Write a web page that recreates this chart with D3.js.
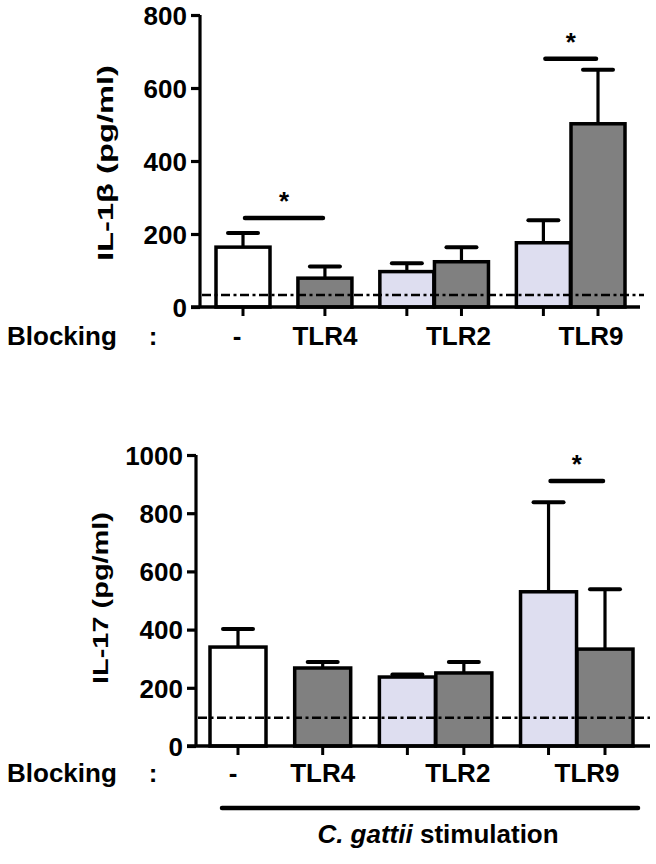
<!DOCTYPE html>
<html><head><meta charset="utf-8">
<script src="https://cdn.jsdelivr.net/npm/d3@7/dist/d3.min.js"></script>
<style>
body{margin:0;background:#fff}
svg{display:block}
text{font-family:"Liberation Sans",Arial,Helvetica,sans-serif;font-weight:bold;fill:#000}
</style>
</head><body>
<svg id="chart" width="656" height="864"></svg>
<script>
// ---- data ----
const blockingLabels = ["-", "TLR4", "TLR2", "TLR9"];
const barGroup = [0, 1, 2, 2, 3, 3];            // which blocking label each bar belongs to
const barKind  = ["none", "blocked", "control", "blocked", "control", "blocked"];
const il1bMean  = [164, 79, 97, 124, 176, 502];
const il1bUpper = [203, 111, 120, 164, 238, 650];
const il17Mean  = [340, 268, 237, 251, 530, 333];
const il17Upper = [402, 289, 246, 289, 838, 539];
const il1bTicks = [0, 200, 400, 600, 800];
const il17Ticks = [0, 200, 400, 600, 800, 1000];
const il1bLimit = 33;
const il17Limit = 97;
const il1bSig = [{a: 0, b: 1, y: 244}, {a: 4, b: 5, y: 680}];
const il17Sig = [{a: 4, b: 5, y: 911}];

const fills = {none: "#ffffff", blocked: "#808080", control: "#dedef0"};
const svg = d3.select("#chart");

function panel(cfg) {
  const g = svg.append("g");
  const y = d3.scaleLinear().domain(cfg.domain).range([cfg.y0, cfg.y1]);
  const slot = barGroup.map((gi, i) => i + 0.5 * gi);
  const x = d3.scaleLinear().domain([0, 6.5]).range([cfg.xFirst, cfg.xLast]);
  const bw = cfg.barW;

  // error bars (upper only)
  const eb = g.append("g");
  cfg.mean.forEach((m, i) => {
    const cx = x(slot[i]);
    eb.append("line").attr("x1", cx).attr("x2", cx).attr("y1", y(m)).attr("y2", y(cfg.upper[i]))
      .attr("stroke", "#000").attr("stroke-width", 3.2);
    eb.append("line").attr("x1", cx - 15).attr("x2", cx + 15).attr("y1", y(cfg.upper[i])).attr("y2", y(cfg.upper[i]))
      .attr("stroke", "#000").attr("stroke-width", 4).attr("stroke-linecap", "round");
  });

  // bars
  g.append("g").selectAll("rect").data(cfg.mean).join("rect")
    .attr("x", (d, i) => x(slot[i]) - bw / 2)
    .attr("width", bw)
    .attr("y", d => y(d))
    .attr("height", d => y(0) - y(d))
    .attr("fill", (d, i) => fills[barKind[i]])
    .attr("stroke", "#000").attr("stroke-width", 3.5);

  // detection limit line
  g.append("line").attr("x1", cfg.axisX + 2).attr("x2", cfg.dashEnd)
    .attr("y1", y(cfg.limit)).attr("y2", y(cfg.limit))
    .attr("stroke", "#000").attr("stroke-width", 2.6).attr("stroke-dasharray", "9,3.5,3,3.5");

  // y axis
  const ya = g.append("g").attr("transform", `translate(${cfg.axisX},0)`)
    .call(d3.axisLeft(y).tickValues(cfg.ticks).tickSize(9).tickPadding(4).tickFormat(d3.format("d")));
  ya.select(".domain").attr("stroke-width", 3.2).attr("d", `M0,${y(cfg.domain[1])}V${y(0)}`);
  ya.selectAll(".tick line").attr("stroke-width", 3.2);
  ya.selectAll(".tick text").attr("font-size", 26).attr("font-family", null).attr("dy", "0.36em");

  // x baseline + ticks
  g.append("line").attr("x1", cfg.axisX - 9).attr("x2", cfg.baseEnd).attr("y1", y(0)).attr("y2", y(0))
    .attr("stroke", "#000").attr("stroke-width", 3.5);
  g.append("g").selectAll("line").data(slot).join("line")
    .attr("x1", d => x(d)).attr("x2", d => x(d)).attr("y1", y(0)).attr("y2", y(0) + 9)
    .attr("stroke", "#000").attr("stroke-width", 3);

  // category labels
  g.append("text").attr("x", 7).attr("y", cfg.labelY).attr("font-size", 26).text("Blocking");
  g.append("text").attr("x", 153).attr("y", cfg.labelY).attr("font-size", 26).attr("text-anchor", "middle").text(":");
  blockingLabels.forEach((lab, gi) => {
    const last = barGroup.lastIndexOf(gi);
    g.append("text").attr("x", x(slot[last]) + cfg.labelDx[gi]).attr("y", cfg.labelY)
      .attr("font-size", 26).attr("text-anchor", "middle").text(lab);
  });

  // significance
  cfg.sig.forEach(s => {
    const x1 = x(slot[s.a]) + 2, x2 = x(slot[s.b]) - 2;
    g.append("line").attr("x1", x1).attr("x2", x2).attr("y1", y(s.y)).attr("y2", y(s.y))
      .attr("stroke", "#000").attr("stroke-width", 4.5).attr("stroke-linecap", "round");
    g.append("text").attr("x", (x1 + x2) / 2).attr("y", y(s.y) - 8).attr("font-size", 26)
      .attr("text-anchor", "middle").text("*");
  });

  // y title
  g.append("text").attr("transform", `translate(${cfg.titleX},${cfg.titleY}) rotate(-90)`)
    .attr("font-size", 22).attr("text-anchor", "middle")
    .attr("textLength", cfg.titleLen).attr("lengthAdjust", "spacingAndGlyphs")
    .text(cfg.title);
  return {x, y};
}

panel({
  domain: [0, 800], y0: 307, y1: 15, axisX: 200, xFirst: 243, xLast: 598, barW: 54,
  mean: il1bMean, upper: il1bUpper, limit: il1bLimit, ticks: il1bTicks, sig: il1bSig,
  dashEnd: 644, baseEnd: 640, labelY: 345, labelDx: [-6, 0, -3, -7],
  title: "IL-1\u03B2 (pg/ml)", titleX: 113, titleY: 163, titleLen: 196
});

panel({
  domain: [0, 1000], y0: 746, y1: 455, axisX: 196, xFirst: 238, xLast: 605, barW: 56,
  mean: il17Mean, upper: il17Upper, limit: il17Limit, ticks: il17Ticks, sig: il17Sig,
  dashEnd: 650, baseEnd: 650, labelY: 782, labelDx: [-5, 0, -6, -18],
  title: "IL-17 (pg/ml)", titleX: 108, titleY: 598, titleLen: 172
});

// stimulation bracket
svg.append("line").attr("x1", 222).attr("x2", 638).attr("y1", 808).attr("y2", 808)
  .attr("stroke", "#000").attr("stroke-width", 4.5).attr("stroke-linecap", "round");
const st = svg.append("text").attr("x", 438).attr("y", 843).attr("font-size", 26).attr("text-anchor", "middle");
st.append("tspan").attr("font-style", "italic").text("C. gattii");
st.append("tspan").text(" stimulation");
</script>
</body></html>
